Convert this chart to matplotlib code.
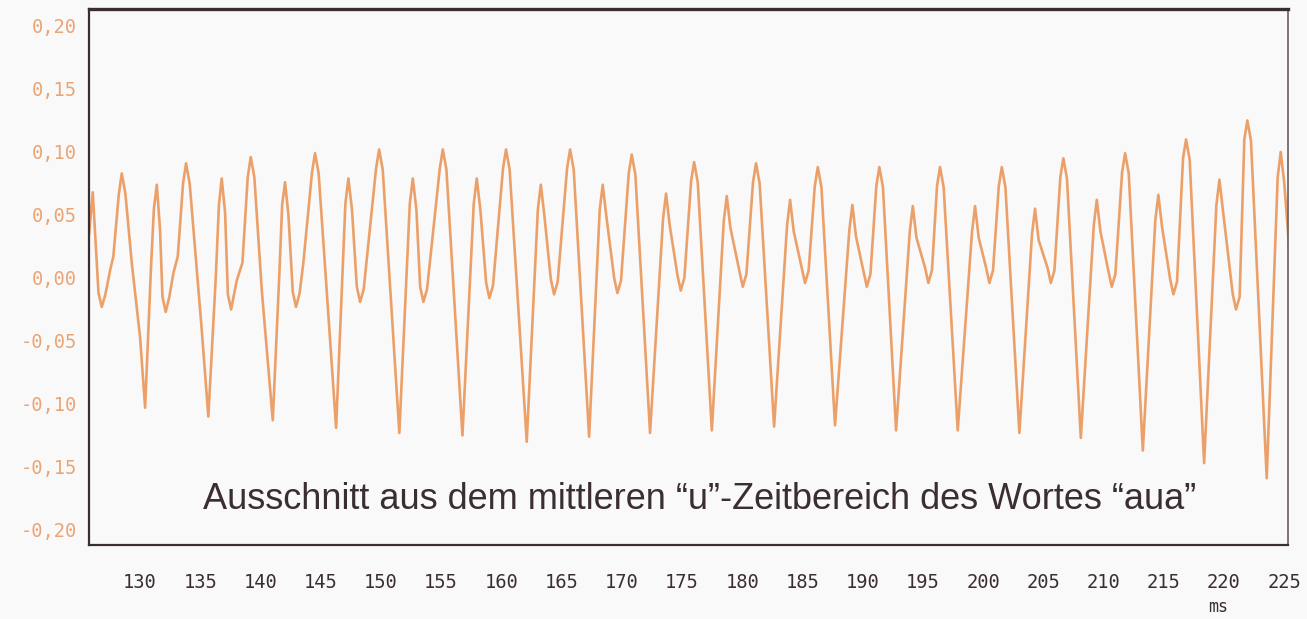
import matplotlib.pyplot as plt
from matplotlib.ticker import FuncFormatter

zeit = [125.77, 126.07, 126.55, 126.82, 127.12, 127.51, 127.78, 128.23, 128.48, 128.78, 129.31, 130.00,
        130.42, 130.91, 131.15, 131.39, 131.66, 131.86, 132.13, 132.43, 132.77, 133.13, 133.57, 133.82, 134.12, 134.51, 135.12,
        135.67, 136.29, 136.55, 136.78, 137.06, 137.29, 137.56, 138.03, 138.50, 138.94, 139.19, 139.49, 140.11,
        141.02, 141.57, 141.80, 142.04, 142.32, 142.68, 142.95, 143.25, 143.56, 144.28, 144.53, 144.83,
        146.28, 147.05, 147.30, 147.60, 148.00, 148.27, 148.57, 149.60, 149.85, 150.15,
        151.53, 152.40, 152.65, 152.95, 153.26, 153.53, 153.83, 154.89, 155.14, 155.44,
        156.77, 157.71, 157.96, 158.26, 158.74, 159.01, 159.31, 160.14, 160.39, 160.69,
        162.11, 163.03, 163.28, 163.58, 164.11, 164.38, 164.68, 165.46, 165.71, 166.01,
        167.29, 168.17, 168.42, 168.72, 169.37, 169.64, 169.94, 170.58, 170.83, 171.13,
        172.35, 173.43, 173.68, 173.98, 174.63, 174.90, 175.20, 175.76, 176.01, 176.31,
        177.48, 178.47, 178.72, 179.02, 179.78, 180.05, 180.35, 180.90, 181.15, 181.45,
        182.65, 183.73, 183.98, 184.28, 184.95, 185.22, 185.52, 186.03, 186.28, 186.58,
        187.71, 188.90, 189.15, 189.45, 190.08, 190.35, 190.65, 191.14, 191.39, 191.69,
        192.78, 193.92, 194.17, 194.47, 195.19, 195.46, 195.76, 196.18, 196.43, 196.73,
        197.90, 199.09, 199.34, 199.64, 200.26, 200.53, 200.83, 201.31, 201.56, 201.86,
        203.02, 204.07, 204.32, 204.62, 205.36, 205.63, 205.93, 206.42, 206.67, 206.97,
        208.12, 209.20, 209.45, 209.75, 210.42, 210.69, 210.99, 211.55, 211.80, 212.10,
        213.27, 214.31, 214.56, 214.86, 215.54, 215.81, 216.11, 216.61, 216.86, 217.16,
        218.36, 219.38, 219.63, 219.93, 220.74, 221.01, 221.31, 221.70, 221.95, 222.25,
        223.56, 224.47, 224.72, 225.02, 225.50]
amplitude = [0.035, 0.068, -0.012, -0.023, -0.013, 0.006, 0.017, 0.066, 0.083, 0.067, 0.012, -0.047,
             -0.103, 0.009, 0.055, 0.074, 0.038, -0.015, -0.027, -0.015, 0.004, 0.017, 0.075, 0.091, 0.075, 0.030, -0.041,
             -0.110, 0.001, 0.058, 0.079, 0.052, -0.013, -0.025, -0.002, 0.012, 0.080, 0.096, 0.080, -0.010,
             -0.113, 0.004, 0.058, 0.076, 0.050, -0.011, -0.023, -0.012, 0.012, 0.084, 0.099, 0.083,
             -0.119, 0.059, 0.079, 0.054, -0.007, -0.019, -0.009, 0.087, 0.102, 0.086,
             -0.123, 0.059, 0.079, 0.054, -0.007, -0.019, -0.009, 0.087, 0.102, 0.086,
             -0.125, 0.059, 0.079, 0.054, -0.004, -0.016, -0.006, 0.087, 0.102, 0.086,
             -0.130, 0.054, 0.074, 0.049, -0.001, -0.013, -0.003, 0.087, 0.102, 0.086,
             -0.126, 0.054, 0.074, 0.049, 0.000, -0.012, -0.002, 0.083, 0.098, 0.082,
             -0.123, 0.047, 0.067, 0.042, 0.002, -0.010, 0.000, 0.077, 0.092, 0.076,
             -0.121, 0.045, 0.065, 0.040, 0.005, -0.007, 0.003, 0.076, 0.091, 0.075,
             -0.118, 0.042, 0.062, 0.037, 0.008, -0.004, 0.006, 0.073, 0.088, 0.072,
             -0.117, 0.038, 0.058, 0.033, 0.005, -0.007, 0.003, 0.073, 0.088, 0.072,
             -0.121, 0.037, 0.057, 0.032, 0.008, -0.004, 0.006, 0.073, 0.088, 0.072,
             -0.121, 0.037, 0.057, 0.032, 0.008, -0.004, 0.006, 0.073, 0.088, 0.072,
             -0.123, 0.035, 0.055, 0.030, 0.008, -0.004, 0.006, 0.080, 0.095, 0.079,
             -0.127, 0.042, 0.062, 0.037, 0.005, -0.007, 0.003, 0.084, 0.099, 0.083,
             -0.137, 0.046, 0.066, 0.041, -0.001, -0.013, -0.003, 0.095, 0.110, 0.094,
             -0.147, 0.058, 0.078, 0.053, -0.013, -0.025, -0.015, 0.110, 0.125, 0.109,
             -0.159, 0.080, 0.100, 0.075, 0.014]

x_ticks = list(range(130, 226, 5))
y_ticks = [-0.2, -0.15, -0.1, -0.05, 0.0, 0.05, 0.1, 0.15, 0.2]

titel = 'Ausschnitt aus dem mittleren \u201cu\u201d-Zeitbereich des Wortes \u201caua\u201d'

bg = '#f9f9f9'
orange = '#eca069'
dunkel = '#3b2e30'

fig = plt.figure(figsize=(13.07, 6.19), dpi=100, facecolor=bg)
ax = fig.add_axes([0.0681, 0.1195, 0.9174, 0.866])
ax.set_facecolor(bg)

ax.plot(zeit, amplitude, color=orange, lw=1.9, solid_joinstyle='round')

ax.set_xlim(125.76, 225.33)
ax.set_ylim(-0.212, 0.2135)
ax.set_xticks(x_ticks)
ax.set_yticks(y_ticks)
ax.yaxis.set_major_formatter(FuncFormatter(lambda v, _: f'{v:.2f}'.replace('.', ',').replace('-0,00', '0,00')))

ax.tick_params(axis='x', length=0, pad=20, labelsize=13.5, labelcolor=dunkel)
ax.tick_params(axis='y', length=0, pad=9, labelsize=13.5, labelcolor='#eba475')
for lab in ax.get_xticklabels() + ax.get_yticklabels():
    lab.set_family('DejaVu Sans Mono')

for side in ['left', 'bottom']:
    ax.spines[side].set_color(dunkel)
    ax.spines[side].set_linewidth(1.6)
ax.spines['top'].set_color(dunkel)
ax.spines['top'].set_linewidth(2.4)
ax.spines['right'].set_color('#6a5e60')
ax.spines['right'].set_linewidth(1.2)

# Beschriftung im Diagramm
ax.text(176.5, -0.176, titel, ha='center', va='center', fontsize=26,
        color=dunkel, family=['Liberation Sans', 'DejaVu Sans'])

ax.text(0.9416, -0.115, 'ms', transform=ax.transAxes, ha='center', va='center',
        fontsize=12, color=dunkel, family='DejaVu Sans Mono')

fig.savefig('out.png', dpi=100, facecolor=bg)
